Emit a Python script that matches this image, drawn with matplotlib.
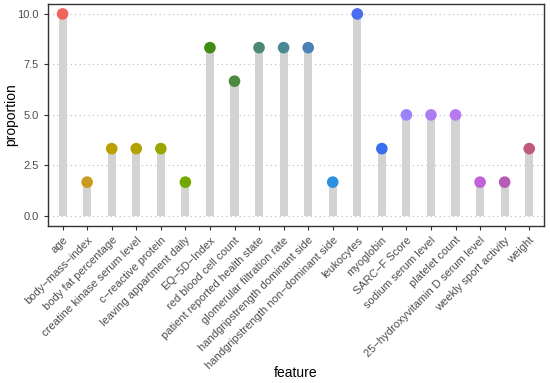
import matplotlib
matplotlib.use("Agg")
import matplotlib.pyplot as plt
import numpy as np

features = ["age", "body\u2212mass\u2212index", "body fat percentage", "creatine kinase serum level",
            "c\u2212reactive protein", "leaving appartment daily", "EQ\u22125D\u2212Index",
            "red blood cell count", "patient reported health state", "glomerular filtration rate",
            "handgripstrength dominant side", "handgripstrength non\u2212dominant side", "leukocytes",
            "myoglobin", "SARC\u2212F Score", "sodium serum level", "platelet count",
            "25\u2212hydroxyvitamin D serum level", "weekly sport activity", "weight"]
proportion = [10.0, 1.67, 3.33, 3.33, 3.33, 1.67, 8.33, 6.67, 8.33, 8.33,
              8.33, 1.67, 10.0, 3.33, 5.0, 5.0, 5.0, 1.67, 1.67, 3.33]
colors = ["#F0645A", "#C89A1E", "#BBA000", "#B2A200", "#9CA600", "#72A800", "#3F8C12",
          "#4C8A42", "#4A8A74", "#4A8894", "#4A82B4", "#2A90E0", "#4A6CF0", "#3A6CF0",
          "#9A82F8", "#AE7CF2", "#B878F0", "#C062D8", "#B85AB8", "#C05A78"]
yticks = [0.0, 2.5, 5.0, 7.5, 10.0]

plt.rcParams['font.family'] = ['Liberation Sans', 'DejaVu Sans']
fig = plt.figure(figsize=(5.5, 3.83), dpi=100)
ax = fig.add_axes([0.087, 0.41, 0.902, 0.58])

x = np.arange(len(features))
for yt in yticks:
    ax.axhline(yt, color="#BBBBBB", lw=0.8, ls=(0, (1, 3)), zorder=0)
ax.bar(x, proportion, width=0.33, color="#D3D3D3", zorder=1)
ax.scatter(x, proportion, s=70, c=colors, zorder=3, linewidths=0)

ax.set_xlim(-0.6, len(features) - 0.4)
ax.set_ylim(-0.5, 10.5)
ax.set_yticks(yticks)
ax.set_yticklabels([f"{v:.1f}" for v in yticks])
ax.set_xticks(x)
ax.set_xticklabels(features, rotation=45, ha="right", rotation_mode="anchor")
ax.tick_params(axis="both", labelsize=8, labelcolor="#4D4D4D", color="#333333",
               length=3, width=0.8)
for s in ax.spines.values():
    s.set_color("#333333")
    s.set_linewidth(1.0)
ax.set_ylabel("proportion", fontsize=10, va="center")
ax.yaxis.set_label_coords(-0.073, 0.5)
fig.text(296/550, 1 - 373/383, "feature", fontsize=10, ha="center", va="center")
fig.savefig("out.png", dpi=100)
